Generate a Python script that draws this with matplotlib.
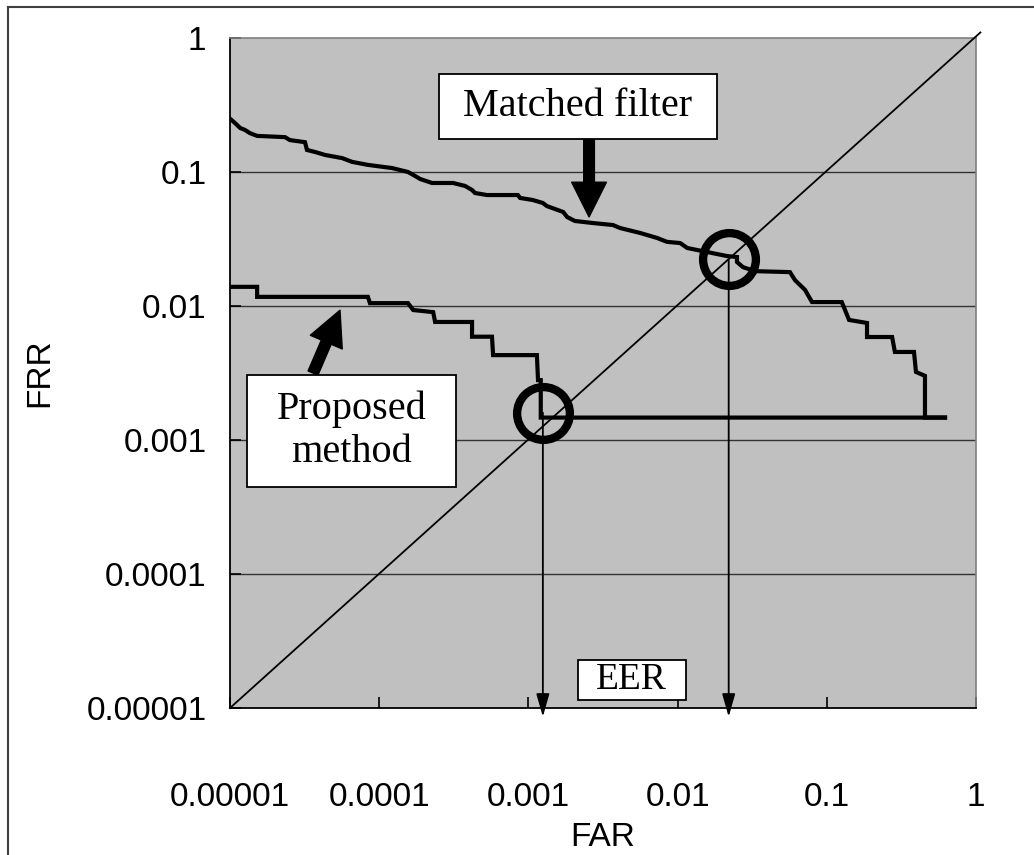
import matplotlib.pyplot as plt
from matplotlib.patches import Rectangle
from matplotlib.lines import Line2D

# Matched filter DET curve (FAR, FRR)
far_mf = [1.0e-5, 1.08e-5, 1.17e-5, 1.26e-5, 1.36e-5, 1.52e-5, 2.34e-5, 2.52e-5,
          3.18e-5, 3.28e-5, 3.72e-5, 4.34e-5, 5.64e-5, 6.58e-5, 8.4e-5, 1.22e-4,
          1.56e-4, 1.74e-4, 1.88e-4, 2.26e-4, 3.13e-4, 3.76e-4, 4.19e-4, 4.39e-4,
          5.28e-4, 8.5e-4, 8.8e-4, 1.07e-3, 1.25e-3, 1.33e-3, 1.71e-3, 1.82e-3,
          2.05e-3, 2.71e-3, 3.69e-3, 4.11e-3, 5.6e-3, 7.28e-3, 8.5e-3, 1.04e-2,
          1.16e-2, 1.57e-2, 2.14e-2, 2.50e-2, 2.50e-2, 2.74e-2, 3.30e-2, 5.66e-2,
          6.12e-2, 7.14e-2, 7.96e-2, 0.126, 0.141, 0.186, 0.186, 0.274,
          0.286, 0.384, 0.396, 0.455, 0.455, 0.62]
frr_mf = [0.25, 0.232, 0.213, 0.206, 0.195, 0.186, 0.182, 0.173,
          0.167, 0.146, 0.141, 0.134, 0.127, 0.119, 0.113, 0.107,
          0.100, 0.0934, 0.0887, 0.0828, 0.0828, 0.0787, 0.0734, 0.0697,
          0.0673, 0.0673, 0.0640, 0.0618, 0.0587, 0.0557, 0.0503, 0.0461,
          0.0431, 0.0416, 0.0402, 0.0382, 0.0351, 0.0322, 0.0301, 0.0295,
          0.0271, 0.0253, 0.0236, 0.0232, 0.0213, 0.0195, 0.0182, 0.0179,
          0.0156, 0.0132, 0.0107, 0.0107, 0.00787, 0.00747, 0.00587, 0.00587,
          0.00454, 0.00454, 0.00322, 0.00301, 0.00147, 0.00147]

# Proposed method DET curve
far_pm = [1.0e-5, 1.52e-5, 1.52e-5, 8.4e-5, 8.67e-5, 1.56e-4, 1.69e-4, 2.30e-4,
          2.37e-4, 4.19e-4, 4.19e-4, 5.7e-4, 5.8e-4, 1.14e-3, 1.16e-3, 1.21e-3,
          1.21e-3, 0.62]
frr_pm = [0.0139, 0.0139, 0.0117, 0.0117, 0.0105, 0.0105, 0.00933, 0.0090,
          0.0076, 0.0076, 0.0059, 0.0059, 0.0043, 0.0043, 0.0028, 0.0028,
          0.00147, 0.00147]

# equal error rate points (FAR, FRR)
eer_far = [1.25e-3, 2.2e-2]
eer_frr = [1.6e-3, 2.24e-2]

ticks = [1e-5, 1e-4, 1e-3, 1e-2, 1e-1, 1]
tick_labels = ['0.00001', '0.0001', '0.001', '0.01', '0.1', '1']

tick_font = ['Liberation Sans', 'DejaVu Sans']
box_font = ['Liberation Serif', 'DejaVu Serif']

fig = plt.figure(figsize=(10.34, 8.55), dpi=100)
ax = fig.add_axes([230 / 1034, 1 - 708 / 855, 746 / 1034, 670 / 855])
ax.set_facecolor('#c0c0c0')
ax.set_xscale('log')
ax.set_yscale('log')
ax.set_xlim(1e-5, 1)
ax.set_ylim(1e-5, 1)

for s in ['top', 'right']:
    ax.spines[s].set_color('#808080')
    ax.spines[s].set_linewidth(1.2)
for s in ['left', 'bottom']:
    ax.spines[s].set_color('black')
    ax.spines[s].set_linewidth(1.3)

for t in ticks[1:-1]:
    ax.axhline(t, color='#333333', lw=1.0, zorder=1)

ax.set_xticks(ticks)
ax.set_yticks(ticks)
ax.set_xticklabels(tick_labels)
ax.set_yticklabels(tick_labels)
ax.minorticks_off()
ax.tick_params(direction='in', length=8, width=1.2, labelsize=24)
ax.tick_params(axis='x', pad=53)
ax.tick_params(axis='y', pad=17)
for lab in ax.get_xticklabels() + ax.get_yticklabels():
    lab.set_family(tick_font)

ax.set_xlabel('FAR', fontsize=24, family=tick_font, labelpad=7)
ax.set_ylabel('FRR', fontsize=24, family=tick_font, labelpad=22)

# diagonal FAR = FRR
ax.plot([1e-5, 1.07], [1e-5, 1.1], color='black', lw=1.3, clip_on=False, zorder=3)

ax.plot(far_mf, frr_mf, color='black', lw=3.0, zorder=4, solid_joinstyle='miter')
ax.plot(far_pm, frr_pm, color='black', lw=3.0, zorder=4, solid_joinstyle='miter')

# EER circles and arrows down to the FAR axis
ax.plot(eer_far, eer_frr, linestyle='none', marker='o', markersize=38,
        markerfacecolor='none', markeredgecolor='black', markeredgewidth=6, zorder=5)
for xf, yf in zip(eer_far, eer_frr):
    ax.annotate('', xy=(xf, 8.6e-6), xytext=(xf, yf), annotation_clip=False,
                arrowprops=dict(arrowstyle='-|>,head_length=1.4,head_width=0.4',
                                color='black', lw=1.3, shrinkA=0, shrinkB=0),
                zorder=5)

# label arrows
ax.annotate('', xy=(2.55e-3, 0.0462), xytext=(2.55e-3, 0.176),
            arrowprops=dict(arrowstyle='simple,head_length=2.5,head_width=2.5,tail_width=0.77',
                            color='black', mutation_scale=10, shrinkA=0, shrinkB=0),
            zorder=6)
ax.annotate('', xy=(5.46e-5, 9.3e-3), xytext=(3.6e-5, 3.16e-3),
            arrowprops=dict(arrowstyle='simple,head_length=2.5,head_width=2.5,tail_width=0.77',
                            color='black', mutation_scale=10, shrinkA=0, shrinkB=0),
            zorder=6)

# text boxes (axes fraction)
boxes = [((0.280, 0.849), 0.373, 0.097, 'Matched filter', 29),
         ((0.0228, 0.330), 0.280, 0.167, 'Proposed\nmethod', 29),
         ((0.466, 0.012), 0.145, 0.060, 'EER', 27)]
for (bx, by), bw, bh, txt, fs in boxes:
    ax.add_patch(Rectangle((bx, by), bw, bh, transform=ax.transAxes,
                           facecolor='white', edgecolor='black', lw=1.3, zorder=7))
    ax.text(bx + bw / 2, by + bh / 2, txt, transform=ax.transAxes, ha='center',
            va='center', fontsize=fs, family=box_font, linespacing=1.2, zorder=8)

# outer frame
fig.add_artist(Line2D([8 / 1034, 8 / 1034], [0, 1 - 7 / 855], color='#404040', lw=1.5))
fig.add_artist(Line2D([8 / 1034, 1], [1 - 7 / 855, 1 - 7 / 855], color='#404040', lw=1.5))

fig.savefig('out.png', dpi=100)
